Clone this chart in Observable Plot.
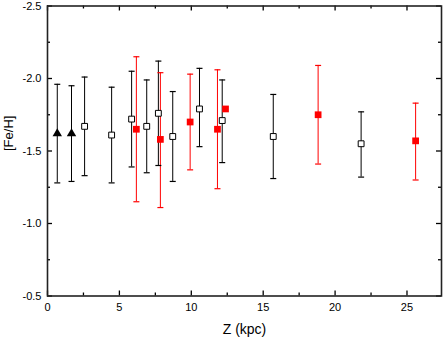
<!DOCTYPE html>
<html>
<head>
<meta charset="utf-8">
<script src="https://cdn.jsdelivr.net/npm/d3@7"></script>
<script src="https://cdn.jsdelivr.net/npm/@observablehq/plot@0.6"></script>
<style>
  html, body { margin: 0; padding: 0; background: #fff; }
  #chart svg { display: block; }
</style>
</head>
<body>
<div id="chart"></div>
<script>
// Black triangles
const triZ = [0.68, 1.67];
const triFe = [-1.62, -1.62];
const triTop = [-1.96, -1.95];
const triBot = [-1.28, -1.29];
// Open squares
const openZ = [2.58, 4.46, 5.85, 6.9, 7.71, 8.71, 10.57, 12.15, 15.7, 21.81];
const openFe = [-1.67, -1.61, -1.72, -1.67, -1.76, -1.60, -1.79, -1.71, -1.60, -1.55];
const openTop = [-2.01, -1.94, -2.05, -1.99, -2.12, -1.91, -2.07, -1.99, -1.89, -1.77];
const openBot = [-1.33, -1.28, -1.39, -1.35, -1.40, -1.29, -1.53, -1.42, -1.31, -1.32];
// Red filled squares
const redZ = [6.18, 7.85, 9.92, 11.82, 12.38, 18.82, 25.6];
const redFe = [-1.65, -1.58, -1.70, -1.65, -1.79, -1.75, -1.57];
const redTop = [-2.15, -2.04, -2.03, -2.06, null, -2.09, -1.83];
const redBot = [-1.15, -1.11, -1.37, -1.24, null, -1.41, -1.30];
// Ticks
const xMajor = [0, 5, 10, 15, 20, 25];
const xMinor = [2.5, 7.5, 12.5, 17.5, 22.5];
const yMajor = [-2.5, -2.0, -1.5, -1.0, -0.5];
const yMinor = [-2.25, -1.75, -1.25, -0.75];

const mk = (zs, fe, top, bot) => zs.map((z, i) => ({z, fe: fe[i], top: top[i], bot: bot[i]}));
const tri = mk(triZ, triFe, triTop, triBot);
const open = mk(openZ, openFe, openTop, openBot);
const red = mk(redZ, redFe, redTop, redBot);
const redBars = red.filter(d => d.top != null);

const W = 443, H = 338;
const mL = 47, mR = 2, mT = 5.5, mB = 42.5;
const pw = W - mL - mR, ph = H - mT - mB;

const cap = {draw(ctx) { ctx.moveTo(-3, 0); ctx.lineTo(3, 0); }};
const font = "Liberation Sans, Arial, sans-serif";

const chart = Plot.plot({
  width: W, height: H,
  marginLeft: mL, marginRight: mR, marginTop: mT, marginBottom: mB,
  style: {fontFamily: font, fontSize: "11px", color: "#000", background: "#fff"},
  x: {domain: [0, 27.4]},
  y: {domain: [-0.5, -2.5]},
  marks: [
    // error bars
    Plot.ruleX(tri, {x: "z", y1: "top", y2: "bot", stroke: "#000", strokeWidth: 1}),
    Plot.ruleX(open, {x: "z", y1: "top", y2: "bot", stroke: "#000", strokeWidth: 1}),
    Plot.ruleX(redBars, {x: "z", y1: "top", y2: "bot", stroke: "#ff0000", strokeWidth: 1}),
    Plot.dot(tri.concat(open), {x: "z", y: "top", symbol: cap, stroke: "#000", strokeWidth: 1.2}),
    Plot.dot(tri.concat(open), {x: "z", y: "bot", symbol: cap, stroke: "#000", strokeWidth: 1.2}),
    Plot.dot(redBars, {x: "z", y: "top", symbol: cap, stroke: "#ff0000", strokeWidth: 1.2}),
    Plot.dot(redBars, {x: "z", y: "bot", symbol: cap, stroke: "#ff0000", strokeWidth: 1.2}),
    // markers
    Plot.dot(tri, {x: "z", y: "fe", symbol: "triangle", r: 3.5, fill: "#000", stroke: "none"}),
    Plot.dot(open, {x: "z", y: "fe", symbol: "square", r: 3.3, fill: "#fff", stroke: "#000", strokeWidth: 1}),
    Plot.dot(red, {x: "z", y: "fe", symbol: "square", r: 3.8, fill: "#ff0000", stroke: "none"}),
    // inward ticks
    Plot.tickX(xMajor, {x: d => d, insetTop: ph - 5, stroke: "#000", strokeWidth: 1.3}),
    Plot.tickX(xMinor, {x: d => d, insetTop: ph - 3, stroke: "#000", strokeWidth: 1.3}),
    Plot.tickX(xMajor, {x: d => d, insetBottom: ph - 5, stroke: "#000", strokeWidth: 1.3}),
    Plot.tickX(xMinor, {x: d => d, insetBottom: ph - 3, stroke: "#000", strokeWidth: 1.3}),
    Plot.tickY(yMajor, {y: d => d, insetRight: pw - 5, stroke: "#000", strokeWidth: 1.3}),
    Plot.tickY(yMinor, {y: d => d, insetRight: pw - 3, stroke: "#000", strokeWidth: 1.3}),
    Plot.tickY(yMajor, {y: d => d, insetLeft: pw - 5, stroke: "#000", strokeWidth: 1.3}),
    Plot.tickY(yMinor, {y: d => d, insetLeft: pw - 3, stroke: "#000", strokeWidth: 1.3}),
    // axes labels
    Plot.axisX(xMajor, {tickSize: 0, tickPadding: 7, tickFormat: d => String(d), fontSize: 11, label: null}),
    Plot.axisY(yMajor, {tickSize: 0, tickPadding: 6, tickFormat: d => d.toFixed(1), fontSize: 11, label: null}),
    Plot.frame({stroke: "#222", strokeWidth: 1.6}),
    Plot.text(["Z (kpc)"], {frameAnchor: "bottom", dy: 38, fontSize: 14, fill: "#000"}),
    Plot.text(["[Fe/H]"], {frameAnchor: "left", dx: -39, rotate: -90, fontSize: 13, fill: "#000"})
  ]
});
document.getElementById("chart").appendChild(chart);
</script>
</body>
</html>
